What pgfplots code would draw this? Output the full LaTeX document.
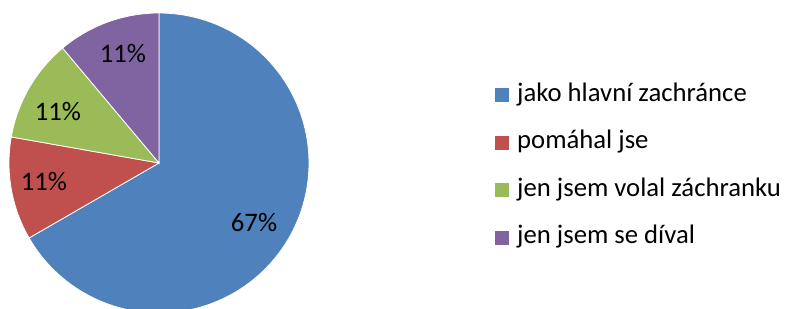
\documentclass[border=0pt]{standalone}
\usepackage{pgfplots}
\usepackage{pgfplotstable}
\pgfplotsset{compat=1.18}
\usepackage{fontspec}
\setmainfont{Carlito}
\definecolor{cblue}{HTML}{4F81BD}
\definecolor{cred}{HTML}{C0504D}
\definecolor{cgreen}{HTML}{9BBB59}
\definecolor{cpurple}{HTML}{8064A2}
\pgfplotstableread{
share label
66.67 67
11.11 11
11.11 11
11.11 11
}\piedata
\pgfplotstablegetelem{0}{share}\of\piedata \let\va\pgfplotsretval
\pgfplotstablegetelem{1}{share}\of\piedata \let\vb\pgfplotsretval
\pgfplotstablegetelem{2}{share}\of\piedata \let\vc\pgfplotsretval
\pgfplotstablegetelem{3}{share}\of\piedata \let\vd\pgfplotsretval
\pgfmathsetmacro\azero{90}
\pgfmathsetmacro\aone{\azero-3.6*\va}
\pgfmathsetmacro\atwo{\aone-3.6*\vb}
\pgfmathsetmacro\athree{\atwo-3.6*\vc}
\pgfmathsetmacro\afour{\athree-3.6*\vd}
\def\cx{159}\def\cy{163}\def\r{150}
\newcommand\lfont{\fontsize{26.8}{31}\selectfont}
\begin{document}
\begin{tikzpicture}
\begin{axis}[
  width=787bp, height=309bp, scale only axis,
  xmin=0, xmax=787, ymin=0, ymax=309, y dir=reverse,
  hide axis, clip=true,
  samples=120,
  legend style={at={(axis cs:495,83)}, anchor=north west, draw=none, fill=none,
    font=\lfont, row sep=23.5bp, inner sep=0pt,
    nodes={inner sep=0pt, text height=18bp, text depth=6bp, anchor=west}},
  legend cell align=left,
  legend image code/.code={\fill[#1, draw=none] (0bp,-7bp) rectangle (14bp,7bp);},
  /tikz/every even column/.append style={column sep=0bp},
  legend columns=1,
]
\path (axis cs:0,0) rectangle (axis cs:787,309);
\addplot[fill=cblue, draw=white, line width=0.8bp, domain=\aone:\azero]
  ({\cx+\r*cos(x)},{\cy-\r*sin(x)}) -- (axis cs:\cx,\cy) -- cycle;
\addlegendentry{\hspace{8bp}jako hlavní zachránce}
\addplot[fill=cred, draw=white, line width=0.8bp, domain=\atwo:\aone]
  ({\cx+\r*cos(x)},{\cy-\r*sin(x)}) -- (axis cs:\cx,\cy) -- cycle;
\addlegendentry{\hspace{8bp}pomáhal jse}
\addplot[fill=cgreen, draw=white, line width=0.8bp, domain=\athree:\atwo]
  ({\cx+\r*cos(x)},{\cy-\r*sin(x)}) -- (axis cs:\cx,\cy) -- cycle;
\addlegendentry{\hspace{8bp}jen jsem volal záchranku}
\addplot[fill=cpurple, draw=white, line width=0.8bp, domain=\afour:\athree]
  ({\cx+\r*cos(x)},{\cy-\r*sin(x)}) -- (axis cs:\cx,\cy) -- cycle;
\addlegendentry{\hspace{8bp}jen jsem se díval}
\node[font=\lfont] at (axis cs:254,223) {67\%};
\node[font=\lfont] at (axis cs:44,182) {11\%};
\node[font=\lfont] at (axis cs:58,112) {11\%};
\node[font=\lfont] at (axis cs:123,54) {11\%};
\end{axis}
\end{tikzpicture}
\end{document}
